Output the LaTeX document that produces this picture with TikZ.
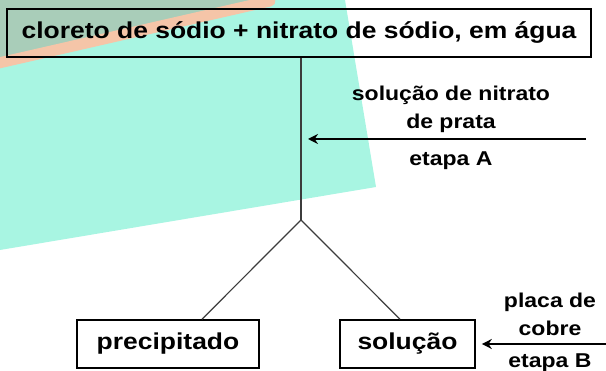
\documentclass[tikz,border=0pt]{standalone}
\usepackage{fontspec}
\setmainfont{Liberation Sans}
\newfontfamily\widefont[FakeStretch=1.15]{Liberation Sans}
\usepackage{xcolor}
\definecolor{aguateal}{RGB}{168,245,226}
\definecolor{shadegray}{RGB}{169,205,185}
\definecolor{peachband}{RGB}{245,197,168}
\definecolor{branchgray}{RGB}{60,60,60}
\usepackage{tikz}
\usetikzlibrary{arrows.meta}
\tikzset{
    stage/.style={draw, line width=1.6pt, minimum height=48pt, inner sep=0pt,
        font=\widefont\bfseries\fontsize{23}{23}\selectfont},
    sidetext/.style={align=center, inner sep=0pt,
        font=\widefont\bfseries\fontsize{20}{28}\selectfont},
    branch/.style={branchgray, line width=1.2pt},
    feed/.style={-{Stealth[length=10pt, width=10pt]}, line width=1.4pt}
}

\begin{document}
\begin{tikzpicture}[x=1pt, y=-1pt]
      \useasboundingbox (0,0) rectangle (606,371);

      % coloured sheet behind the scheme
      \fill[aguateal] (0,0) -- (345,0) -- (376,187) -- (0,250) -- cycle;
      \fill[shadegray] (0,0) -- (0,62) -- (268,0) -- cycle;
      \draw[peachband, line width=11pt, line cap=round] (-10,65) -- (270,1);

      \node[stage, minimum width=584pt] (mix) at (299,33) {cloreto de sódio + nitrato de sódio, em água};
      \node[stage, minimum width=182pt] (prec) at (168,344) {precipitado};
      \node[stage, minimum width=135pt] (sol) at (407.5,344) {solução};

      \coordinate (split) at (301,220);
      \draw[branch] (mix.south -| split) -- (split);
      \draw[branch] (split) -- ([xshift=34pt]prec.north);
      \draw[branch] (split) -- ([xshift=-7.5pt]sol.north);

      % etapa A
      \coordinate (inA) at (586,139);
      \draw[feed] (inA) -- ([xshift=7pt]inA -| split);
      \node[sidetext, anchor=base] (reagA) at (451,129) {solução de nitrato\\de prata};
      \node[sidetext, anchor=base] (stepA) at (451,166) {etapa A};

      % etapa B
      \coordinate (inB) at (606,344);
      \draw[feed] (inB) -- ([xshift=6pt]sol.east);
      \node[sidetext, anchor=base] (reagB) at (550,336) {placa de\\cobre};
      \node[sidetext, anchor=base] (stepB) at (550,368) {etapa B};
    \end{tikzpicture}
\end{document}
